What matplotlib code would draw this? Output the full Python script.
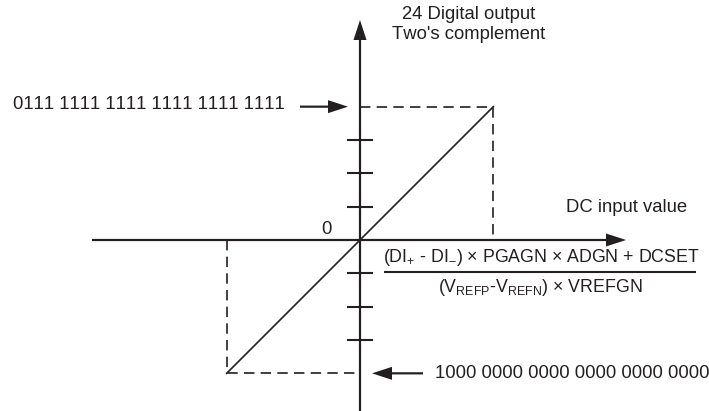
import matplotlib
matplotlib.use('Agg')
import matplotlib.pyplot as plt

plt.rcParams['font.family'] = ['Liberation Sans', 'DejaVu Sans']
plt.rcParams['mathtext.fontset'] = 'custom'
plt.rcParams['mathtext.rm'] = 'Liberation Sans'
plt.rcParams['mathtext.it'] = 'Liberation Sans:italic'
plt.rcParams['lines.scale_dashes'] = False
plt.rcParams['text.kerning_factor'] = 20  # reference text is not kerned

# Transfer function (in tick units, full scale = 4 ticks)
transfer_x = [-4, 4]
transfer_y = [-4, 4]
full_scale = 4
tick_codes = [-3, -2, -1, 1, 2, 3]

pos_code_label = '0111 1111 1111 1111 1111 1111'
neg_code_label = '1000 0000 0000 0000 0000 0000'
y_title = ['24 Digital output', "Two's complement"]
x_title = 'DC input value'
numerator = r'(DI$_{+}$ - DI$_{-}$) × PGAGN × ADGN + DCSET'
denominator = r'(V$_{\mathrm{REFP}}$-V$_{\mathrm{REFN}}$) × VREFGN'

# figure in pixels, 1 tick unit = 33.33 px, origin at (360, 240)
u = 100 / 3.0
fig = plt.figure(figsize=(7.09, 4.11), dpi=100)
ax = fig.add_axes([0, 0, 1, 1])
ax.set_xlim(-360 / u, (709 - 360) / u)
ax.set_ylim(-(411 - 240) / u, 240 / u)
ax.axis('off')

ink = '#231f20'
lw = 1.5
fs = 13.3
fs_frac = 12.8
hl = 20 / u
hw = 13 / u
sw = 2.2 / u

# axes with arrows
ax.arrow(-8.04, 0, 8.04 + 7.98, 0, width=sw, head_width=hw, head_length=hl,
         length_includes_head=True, color=ink, lw=0)
ax.arrow(0, -5.2, 0, 5.2 + 6.6, width=sw, head_width=hw, head_length=hl,
         length_includes_head=True, color=ink, lw=0)

# ticks on the code axis
for t in tick_codes:
    ax.plot([-0.36, 0.36], [t, t], color=ink, lw=lw)

# transfer line
ax.plot(transfer_x, transfer_y, color=ink, lw=1.2)

# dashed full-scale guides
dash = (0, (7.5, 4.5))
ax.plot([0, full_scale, full_scale], [full_scale, full_scale, 0],
        color=ink, lw=1.2, linestyle=dash)
ax.plot([-full_scale, -full_scale, 0], [0, -full_scale, -full_scale],
        color=ink, lw=1.2, linestyle=dash)

# code arrows
ax.arrow(-1.8, full_scale, 1.8 - 0.36, 0, width=sw, head_width=hw, head_length=hl,
         length_includes_head=True, color=ink, lw=0)
ax.arrow(1.89, -full_scale, -(1.89 - 0.36), 0, width=sw, head_width=hw, head_length=hl,
         length_includes_head=True, color=ink, lw=0)

# texts
ax.text(-2.25, 4.05, pos_code_label, ha='right', va='center', fontsize=fs, color=ink)
ax.text(2.25, -4.0, neg_code_label, ha='left', va='center', fontsize=fs, color=ink)
ax.text(-1.0, 0.33, '0', ha='center', va='center', fontsize=fs, color=ink)
ax.text(3.27, 6.75, y_title[0], ha='center', va='center', fontsize=fs, color=ink)
ax.text(3.27, 6.15, y_title[1], ha='center', va='center', fontsize=fs, color=ink)
ax.text(8.0, 0.96, x_title, ha='center', va='center', fontsize=fs, color=ink)
ax.text(0.69, -0.51, numerator, ha='left', va='center', fontsize=fs_frac, color=ink)
ax.plot([0.75, 10.05], [-0.96, -0.96], color=ink, lw=lw)
ax.text(5.4, -1.44, denominator, ha='center', va='center', fontsize=fs_frac, color=ink)

fig.savefig('out.png', dpi=100)
